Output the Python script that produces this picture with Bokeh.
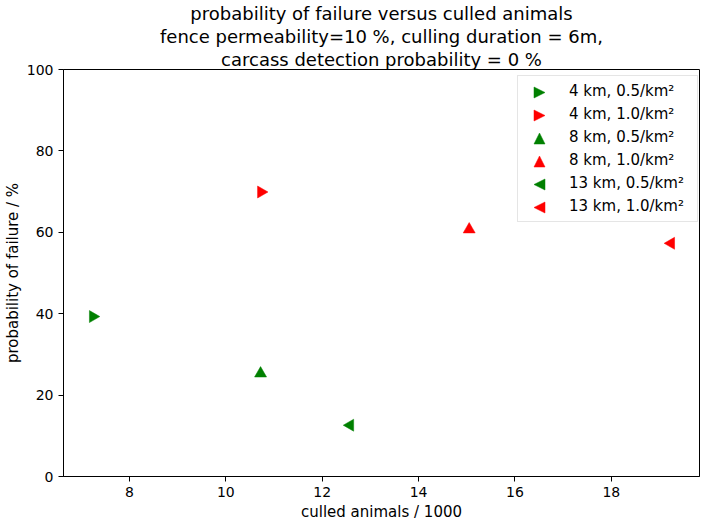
import math
from bokeh.plotting import figure
from bokeh.models import (Legend, LegendItem, FixedTicker, Range1d, Title,
                          PolyAnnotation)
from bokeh.embed import file_html
from bokeh.resources import INLINE

# data
series_labels = ["4 km, 0.5/km²", "4 km, 1.0/km²", "8 km, 0.5/km²",
                 "8 km, 1.0/km²", "13 km, 0.5/km²", "13 km, 1.0/km²"]
culled = [7.24, 10.73, 10.72, 15.05, 12.58, 19.24]      # culled animals / 1000
failure = [39.3, 69.9, 25.3, 60.7, 12.6, 57.3]          # probability of failure / %
colors = ["green", "red", "green", "red", "green", "red"]
directions = ["right", "right", "up", "up", "left", "left"]
x_ticks = [8, 10, 12, 14, 16, 18]
y_ticks = [0, 20, 40, 60, 80, 100]
title_lines = ["probability of failure versus culled animals",
               "fence permeability=10 %, culling duration = 6m,",
               "carcass detection probability = 0 %"]

FONT = "DejaVu Sans"

p = figure(width=700, height=523, output_backend="svg", toolbar_location=None,
           x_range=Range1d(6.63, 19.83), y_range=Range1d(0, 100),
           min_border_left=56, min_border_right=1, min_border_top=59,
           min_border_bottom=47)


def style_title(t):
    t.align = "center"
    t.text_font = FONT
    t.text_font_size = "18px"
    t.text_font_style = "normal"
    t.text_color = "black"
    t.text_line_height = 0.92
    t.standoff = 0
    t.offset = 0


p.title.text = title_lines[0]
style_title(p.title)
for line in (title_lines[2], title_lines[1]):
    t = Title(text=line)
    style_title(t)
    p.add_layout(t, "above")

p.xgrid.visible = False
p.ygrid.visible = False
p.outline_line_color = "black"
p.outline_line_alpha = 1.0
p.outline_line_width = 1

for ax in (p.xaxis[0], p.yaxis[0]):
    ax.axis_line_color = "black"
    ax.major_tick_line_color = "black"
    ax.major_tick_out = 5
    ax.major_tick_in = 0
    ax.minor_tick_line_color = None
    ax.major_label_text_font = FONT
    ax.major_label_text_font_size = "14px"
    ax.major_label_text_color = "black"
    ax.major_label_standoff = 5
    ax.axis_label_text_font = FONT
    ax.axis_label_text_font_size = "15px"
    ax.axis_label_text_font_style = "normal"
    ax.axis_label_text_color = "black"
    ax.axis_label_standoff = 3

p.xaxis[0].ticker = FixedTicker(ticks=x_ticks)
p.yaxis[0].ticker = FixedTicker(ticks=y_ticks)
p.xaxis[0].axis_label = "culled animals / 1000"
p.yaxis[0].axis_label = "probability of failure / %"
p.yaxis[0].axis_label_standoff = 2

angle_for = {"up": 0.0, "left": math.pi / 2, "right": -math.pi / 2}

# data markers
for xv, yv, c, d in zip(culled, failure, colors, directions):
    p.scatter(x=[xv], y=[yv], marker="triangle", size=12,
              angle=angle_for[d], fill_color=c, line_color=c, line_width=0.5)

# legend (box + labels); its glyphs are invisible, the oriented markers are
# overlaid below so that left/right triangles appear as in the reference
items = []
for lab, xv, yv in zip(series_labels, culled, failure):
    dummy = p.scatter(x=[xv], y=[yv], marker="triangle", size=0,
                      fill_alpha=0, line_alpha=0)
    items.append(LegendItem(label=lab, renderers=[dummy]))

PAD, ROW, GAP, GW = 6, 18, 5, 32
LX, LY = 454, 254
legend = Legend(items=items, location=(LX, LY))
legend.label_text_font = FONT
legend.label_text_font_size = "15px"
legend.label_text_color = "black"
legend.border_line_color = "#cccccc"
legend.border_line_width = 1
legend.background_fill_color = None
legend.padding = PAD
legend.spacing = GAP
legend.margin = 0
legend.glyph_width = GW
legend.glyph_height = ROW
legend.label_height = ROW
legend.label_width = 122
legend.label_standoff = 13
p.add_layout(legend, "center")

n = len(series_labels)
legend_h = 2 * PAD + n * ROW + (n - 1) * GAP
top = LY + legend_h
cx = LX + PAD + GW / 2
s = 5.5
for k, (c, d) in enumerate(zip(colors, directions)):
    cy = top - PAD - ROW / 2 - k * (ROW + GAP)
    if d == "up":
        xs = [cx - s, cx + s, cx]
        ys = [cy - s, cy - s, cy + s]
    elif d == "right":
        xs = [cx - s, cx - s, cx + s]
        ys = [cy - s, cy + s, cy]
    else:
        xs = [cx + s, cx + s, cx - s]
        ys = [cy - s, cy + s, cy]
    p.add_layout(PolyAnnotation(xs=xs, ys=ys, xs_units="screen",
                                ys_units="screen", fill_color=c, fill_alpha=1,
                                line_color=c, line_width=0.5, line_alpha=1,
                                level="overlay"))

open("out.html", "w").write(file_html(p, INLINE))
